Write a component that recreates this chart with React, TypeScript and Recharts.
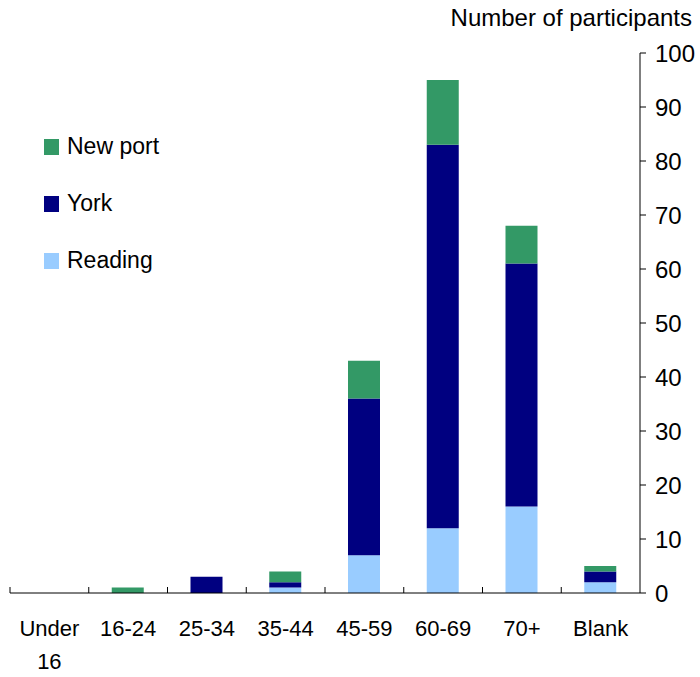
import { BarChart, Bar, XAxis, YAxis, Legend } from 'recharts';

const categories = ['Under 16', '16-24', '25-34', '35-44', '45-59', '60-69', '70+', 'Blank'];
const reading = [0, 0, 0, 1, 7, 12, 16, 2];
const york = [0, 0, 3, 1, 29, 71, 45, 2];
const newport = [0, 1, 0, 2, 7, 12, 7, 1];
const yTicks = [0, 10, 20, 30, 40, 50, 60, 70, 80, 90, 100];

const series = [
  { key: 'newport', name: 'New port', color: '#339966' },
  { key: 'york', name: 'York', color: '#000080' },
  { key: 'reading', name: 'Reading', color: '#99CCFF' },
];

const data = categories.map((c, i) => ({
  category: c,
  reading: reading[i],
  york: york[i],
  newport: newport[i],
}));

const FONT = '"Liberation Sans", Arial, sans-serif';

function CategoryTick(props: any) {
  const { x, y, payload } = props;
  const half = payload && payload.offset ? payload.offset : 39.4;
  const lines = String(payload.value).split(' ');
  return (
    <g>
      <line x1={x - half} x2={x - half} y1={y} y2={y - 6} stroke="#000" strokeWidth={1} />
      {lines.map((t, i) => (
        <text key={i} x={x} y={y + 43 + i * 33} textAnchor="middle" fontSize={22} fill="#000" fontFamily={FONT}>
          {t}
        </text>
      ))}
    </g>
  );
}

function LegendBox() {
  return (
    <div style={{ fontFamily: FONT, fontSize: 23, color: '#000' }}>
      {series.map((s) => (
        <div key={s.key} style={{ display: 'flex', alignItems: 'center', height: 57 }}>
          <span style={{ display: 'inline-block', width: 15, height: 16, background: s.color, marginRight: 8 }} />
          <span>{s.name}</span>
        </div>
      ))}
    </div>
  );
}

function AxisTitle(props: any) {
  const vb = props.viewBox || { x: 640, y: 53, width: 60 };
  return (
    <text x={vb.x + vb.width - 8} y={vb.y - 27} textAnchor="end" fontSize={24} fill="#000" fontFamily={FONT}>
      Number of participants
    </text>
  );
}

export default function App() {
  return (
    <div style={{ position: 'absolute', left: 0, top: 0, width: 700, height: 677, background: '#fff' }}>
      <BarChart
        width={700}
        height={677}
        data={data}
        margin={{ top: 53, right: 0, bottom: 0, left: 10 }}
        barCategoryGap={0}
        style={{ fontFamily: FONT }}
      >
        <XAxis
          dataKey="category"
          interval={0}
          height={84}
          tickSize={0}
          tickMargin={0}
          tickLine={false}
          axisLine={{ stroke: '#000', strokeWidth: 1 }}
          tick={<CategoryTick />}
        />
        <YAxis
          orientation="right"
          width={60}
          domain={[0, 100]}
          ticks={yTicks}
          interval={0}
          tickSize={6}
          tickMargin={9}
          axisLine={{ stroke: '#000', strokeWidth: 1 }}
          tickLine={{ stroke: '#000', strokeWidth: 1 }}
          tick={{ fill: '#000', fontSize: 24, fontFamily: FONT }}
          label={{ content: <AxisTitle /> }}
        />
        <Legend
          content={<LegendBox />}
          wrapperStyle={{ position: 'absolute', left: 44, top: 118, width: 200, height: 0, overflow: 'visible' }}
        />
        <Bar dataKey="reading" name="Reading" stackId="a" fill="#99CCFF" barSize={32} isAnimationActive={false} />
        <Bar dataKey="york" name="York" stackId="a" fill="#000080" barSize={32} isAnimationActive={false} />
        <Bar dataKey="newport" name="New port" stackId="a" fill="#339966" barSize={32} isAnimationActive={false} />
      </BarChart>
    </div>
  );
}
